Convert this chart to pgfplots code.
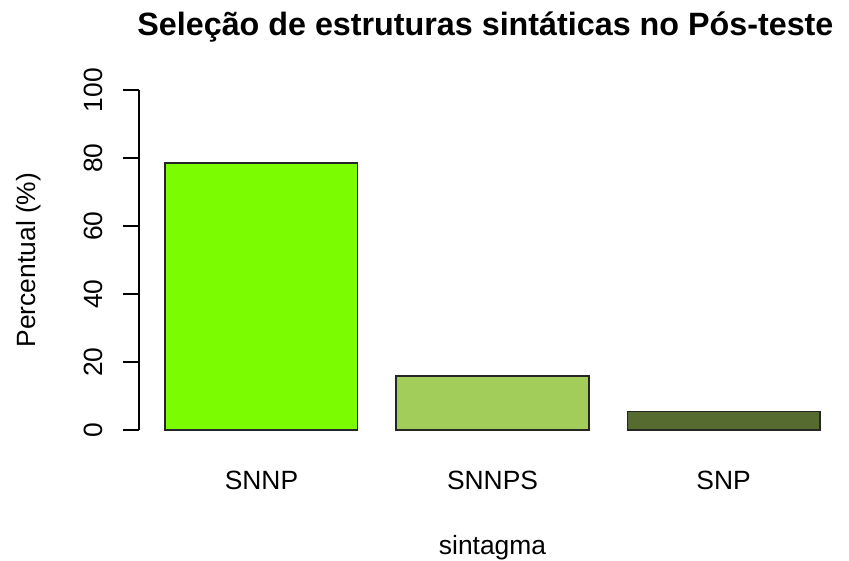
\documentclass[border=0pt]{standalone}
\usepackage{fontspec}
\setmainfont{Liberation Sans}
\usepackage{pgfplots}
\pgfplotsset{compat=1.18}
\definecolor{c1}{HTML}{7CFC00}
\definecolor{c2}{HTML}{A2CD5A}
\definecolor{c3}{HTML}{556B2F}
\begin{document}
\begin{tikzpicture}
\path[use as bounding box] (0,0) rectangle (849bp,561bp);
\begin{axis}[
  at={(139bp,117.4bp)}, anchor=south west,
  scale only axis, width=707bp, height=367.2bp,
  xmin=0.064, xmax=3.736, ymin=-4, ymax=104,
  axis x line*=bottom, axis y line*=left,
  x axis line style={draw=none}, y axis line style={draw=none},
  xtick={0.7,1.9,3.1}, xticklabels={SNNP,SNNPS,SNP},
  xtick style={draw=none},
  ytick={0,20,40,60,80,100},
  ytick style={black, line width=1.2bp},
  tick align=outside, major tick length=16bp,
  font=\fontsize{26.5}{30}\selectfont,
  tick label style={font=\fontsize{26.5}{30}\selectfont, inner sep=0pt},
  xticklabel style={anchor=base, yshift=-29.4bp},
  yticklabel style={xshift=-20bp, rotate=90, anchor=base},
  /pgf/number format/assume math mode=true,
  title={Seleção de estruturas sintáticas no Pós-teste},
  title style={at={(axis description cs:0.490,1.0964)}, anchor=base, font=\bfseries\fontsize{32.4}{36}\selectfont},
  xlabel={sintagma},
  xlabel style={at={(axis description cs:0.5,-0.3007)}, anchor=base},
  ylabel={Percentual (\%)},
  ylabel style={at={(axis description cs:-0.1471,0.5)}, anchor=base},
  clip=false,
]
\addplot[black, line width=1.2bp] coordinates {(0.064,0) (0.064,100)};
\addplot[ybar, bar width=1, bar shift=0pt, fill=c1, draw=black!85, line width=1.5bp] coordinates {(0.7,78.6)};
\addplot[ybar, bar width=1, bar shift=0pt, fill=c2, draw=black!85, line width=1.5bp] coordinates {(1.9,15.9)};
\addplot[ybar, bar width=1, bar shift=0pt, fill=c3, draw=black!85, line width=1.5bp] coordinates {(3.1,5.5)};
\end{axis}
\end{tikzpicture}
\end{document}
